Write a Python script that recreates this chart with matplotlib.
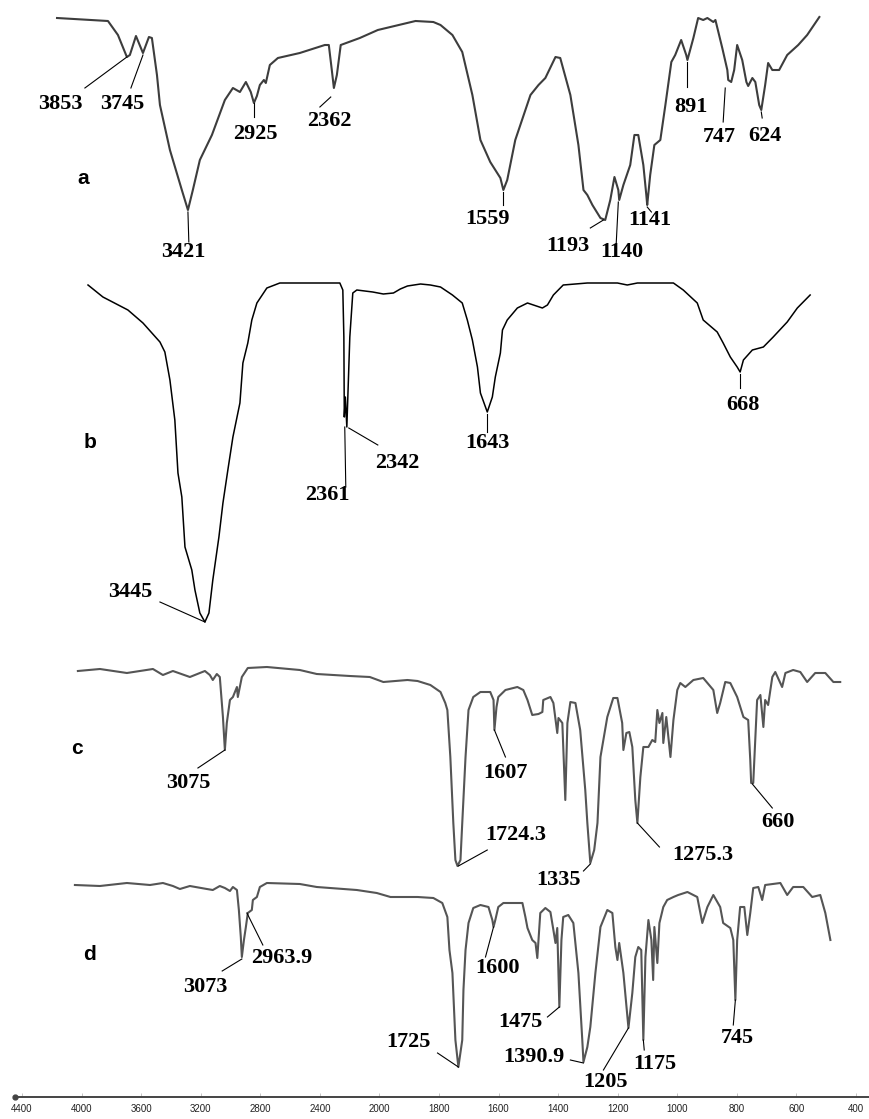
#!/usr/bin/env python3
"""Stacked FTIR spectra (a-d) with annotated band positions."""

import matplotlib
matplotlib.use("Agg")
import matplotlib.pyplot as plt
import numpy as np


# wavenumber (cm-1, as read on the shared bottom axis) and trace height (image rows, downwards)
A_WN = [4165, 3823, 3756, 3696, 3676, 3635, 3588, 3548, 3528, 3494, 3474, 3407, 3327, 3286,
        3253, 3206, 3125, 3038, 2984, 2937, 2897, 2864, 2843, 2823, 2803, 2776, 2763, 2736,
        2682, 2535, 2367, 2340, 2320, 2306, 2286, 2260, 2132, 2011, 1879, 1819, 1795, 1755,
        1722, 1688, 1661, 1628, 1594, 1584, 1571, 1544, 1493, 1466, 1443, 1409, 1393, 1359,
        1332, 1315, 1302, 1285, 1258, 1242, 1225, 1211, 1198, 1195, 1181, 1158, 1144, 1131,
        1114, 1104, 1101, 1091, 1077, 1057, 1040, 1020, 1007, 987, 970, 966, 946, 930, 913,
        899, 879, 872, 849, 832, 829, 819, 809, 799, 782, 768, 762, 748, 738, 725, 718, 705,
        695, 681, 658, 631, 594, 564, 523]
A_Y = [18, 21, 35, 57, 55, 36, 53, 37, 38, 75, 105, 150, 190, 210,
       190, 160, 135, 100, 88, 92, 82, 92, 103, 96, 85, 80, 83, 65,
       58, 53, 45, 45, 70, 88, 75, 45, 38, 30, 21, 22, 25, 35,
       52, 95, 140, 162, 178, 190, 180, 140, 95, 85, 78, 57, 58, 95,
       145, 190, 195, 205, 218, 220, 200, 177, 190, 200, 185, 165, 135, 135,
       165, 195, 205, 175, 145, 140, 105, 62, 55, 40, 55, 60, 38, 18, 20,
       18, 22, 20, 48, 70, 80, 82, 70, 45, 60, 82, 86, 78, 82, 105, 110, 85,
       63, 70, 70, 55, 45, 35, 17]

B_WN = [3957, 3857, 3689, 3588, 3474, 3441, 3407, 3374, 3353, 3327, 3306, 3260, 3239, 3206,
        3172, 3145, 3119, 3078, 3051, 3018, 2984, 2937, 2917, 2884, 2857, 2823, 2756, 2669,
        2266, 2246, 2239, 2236, 2229, 2219, 2199, 2179, 2152, 2045, 1987, 1953, 1930, 1906,
        1862, 1829, 1795, 1755, 1722, 1705, 1688, 1671, 1661, 1638, 1621, 1611, 1594, 1587,
        1571, 1537, 1503, 1483, 1453, 1436, 1416, 1383, 1302, 1201, 1168, 1134, 1013, 980,
        933, 913, 866, 846, 822, 799, 789, 778, 748, 711, 678, 631, 597, 554]
B_Y = [285, 297, 310, 323, 342, 352, 380, 420, 473, 497, 547, 570, 590, 613,
       622, 613, 580, 537, 503, 470, 437, 403, 363, 343, 320, 303, 288, 283,
       283, 290, 337, 417, 397, 427, 337, 293, 290, 292, 294, 293, 289, 286,
       284, 285, 287, 295, 303, 320, 340, 367, 393, 412, 397, 377, 353, 330,
       320, 308, 303, 305, 308, 305, 295, 285, 283, 283, 285, 283, 283, 290,
       303, 320, 332, 343, 357, 367, 372, 360, 350, 347, 337, 322, 308, 295]

C_WN = [4025, 3877, 3696, 3521, 3454, 3387, 3273, 3206, 3172, 3139, 3119, 3092, 3072, 3051,
        3038, 3025, 3004, 2984, 2957, 2951, 2924, 2884, 2756, 2535, 2421, 2199, 2065, 1987,
        1906, 1872, 1829, 1795, 1779, 1772, 1762, 1752, 1745, 1738, 1728, 1722, 1711, 1701,
        1685, 1661, 1628, 1617, 1614, 1607, 1601, 1577, 1537, 1517, 1503, 1487, 1466, 1453,
        1450, 1426, 1416, 1403, 1399, 1386, 1376, 1369, 1359, 1342, 1326, 1309, 1302, 1292,
        1279, 1268, 1258, 1235, 1215, 1201, 1185, 1181, 1171, 1161, 1151, 1141, 1134, 1124,
        1114, 1097, 1084, 1074, 1067, 1060, 1050, 1047, 1037, 1023, 1013, 1000, 990, 973,
        946, 913, 879, 866, 856, 839, 822, 799, 778, 762, 755, 752, 745, 732, 721, 711, 705,
        695, 681, 671, 648, 637, 611, 587, 564, 537, 503, 476, 453]
C_Y = [671, 669, 673, 669, 675, 671, 677, 673, 671, 675, 680, 674, 677, 717,
       750, 723, 700, 697, 687, 697, 677, 668, 667, 670, 674, 676, 677, 682,
       680, 681, 685, 692, 703, 710, 757, 823, 860, 866, 860, 823, 757, 710,
       697, 692, 692, 700, 730, 707, 697, 690, 687, 690, 700, 715, 714, 712,
       700, 697, 703, 733, 718, 723, 800, 723, 702, 703, 730, 790, 823, 863,
       850, 823, 757, 717, 698, 698, 723, 750, 733, 732, 747, 800, 823, 777,
       747, 747, 740, 742, 710, 723, 713, 743, 717, 757, 720, 690, 683, 687,
       680, 678, 690, 713, 703, 682, 683, 697, 717, 720, 760, 783, 783, 700, 695, 727, 700,
       705, 677, 672, 687, 673, 670, 672, 682, 673, 673, 682, 682]

D_WN = [4045, 3877, 3696, 3541, 3454, 3387, 3340, 3273, 3159, 3119, 3072, 3038, 3004, 2984,
        2957, 2944, 2931, 2924, 2910, 2897, 2884, 2857, 2850, 2823, 2803, 2756, 2535, 2421,
        2152, 2018, 1963, 1872, 1819, 1789, 1772, 1765, 1755, 1745, 1735, 1722, 1718, 1711,
        1701, 1685, 1661, 1634, 1621, 1617, 1611, 1601, 1584, 1520, 1510, 1503, 1487, 1476,
        1470, 1466, 1460, 1443, 1426, 1416, 1409, 1403, 1396, 1389, 1383, 1366, 1349, 1332,
        1319, 1315, 1302, 1292, 1275, 1258, 1235, 1218, 1208, 1201, 1195, 1181, 1164, 1151,
        1141, 1131, 1121, 1114, 1107, 1097, 1087, 1081, 1077, 1067, 1060, 1047, 1034, 1013,
        997, 966, 933, 916, 899, 879, 856, 846, 822, 812, 805, 799, 789, 775, 765, 755, 745,
        728, 715, 705, 654, 631, 611, 577, 547, 520, 503, 486]
D_Y = [885, 886, 883, 885, 883, 886, 889, 886, 889, 890, 886, 888, 891, 887,
       890, 910, 937, 957, 940, 927, 913, 910, 900, 897, 887, 883, 884, 887,
       890, 893, 897, 897, 898, 903, 917, 950, 973, 1040, 1067, 1040, 990, 950,
       923, 908, 905, 907, 920, 927, 920, 907, 903, 903, 917, 928, 940, 943,
       958, 940, 913, 908, 912, 930, 943, 928, 1007, 940, 917, 915, 923, 973,
       1040, 1062, 1047, 1027, 973, 927, 910, 913, 947, 960, 943, 973, 1028, 993,
       957, 947, 950, 1040, 957, 920, 940, 980, 927, 963, 923, 907, 900, 897,
       895, 892, 897, 923, 907, 895, 907, 923, 928, 940, 1000, 940, 907, 907, 935, 913, 888,
       887, 900, 885, 883, 895, 887, 887, 897, 895, 913, 940]

# band labels: text, label centre, leader line (two points)
A_BANDS = ["3853", "3745", "3421", "2925", "2362", "1559", "1193", "1140", "1141", "891", "747", "624"]
A_BAND_POS = [(4145, 104), (3729, 104), (3320, 252), (2830, 134), (2333, 121), (1638, 219),
              (1369, 246), (1185, 252), (1091, 220), (953, 107), (859, 137), (705, 136)]
A_LEADERS = [((3978, 88), (3696, 57)), ((3669, 88), (3588, 55)), ((3286, 212), (3280, 242)),
             ((2843, 117), (2843, 103)), ((2400, 107), (2327, 97)), ((1584, 192), (1584, 205)),
             ((1292, 228), (1248, 220)), ((1198, 202), (1205, 243)), ((1101, 207), (1087, 212)),
             ((966, 62), (966, 87)), ((839, 88), (846, 122)), ((718, 112), (715, 118))]

B_BANDS = ["3445", "2361", "2342", "1643", "668"]
B_BAND_POS = [(3676, 592), (2347, 495), (1940, 463), (1638, 443), (778, 405)]
B_LEADERS = [((3474, 602), (3172, 622)), ((2233, 427), (2226, 487)), ((2206, 428), (2011, 445)),
             ((1638, 414), (1638, 432)), ((789, 374), (789, 388))]

C_BANDS = ["3075", "1607", "1724.3", "1335", "1275.3", "660"]
C_BAND_POS = [(3286, 783), (1577, 773), (1544, 835), (1399, 880), (916, 855), (661, 822)]
C_LEADERS = [((3219, 768), (3038, 750)), ((1614, 730), (1577, 757)), ((1735, 866), (1638, 850)),
             ((1292, 864), (1315, 871)), ((1134, 823), (1060, 847)), ((748, 784), (681, 808))]

D_BANDS = ["3073", "2963.9", "1600", "1475", "1390.9", "1725", "1205", "1175", "745"]
D_BAND_POS = [(3172, 987), (2655, 958), (1604, 968), (1527, 1022), (1483, 1057), (1903, 1042),
              (1242, 1082), (1074, 1064), (799, 1038)]
D_LEADERS = [((3056, 971), (2924, 959)), ((2783, 945), (2890, 913)), ((1644, 957), (1617, 927)),
             ((1436, 1017), (1396, 1007)), ((1359, 1060), (1315, 1063)), ((1805, 1053), (1735, 1067)),
             ((1248, 1070), (1164, 1028)), ((1114, 1040), (1111, 1050)), ((805, 1000), (812, 1025))]

PANEL_NAMES = ["a", "b", "c", "d"]
PANEL_POS = [(3991, 178), (3944, 442), (4031, 748), (3944, 955)]

X_TICKS = [4400, 4000, 3600, 3200, 2800, 2400, 2000, 1800, 1600, 1400, 1200, 1000, 800, 600, 400]


def forward(w):
    w = np.asarray(w, dtype=float)
    return np.where(w >= 2000, (w - 2000) / 400.0, (w - 2000) / 200.0)


def inverse(v):
    v = np.asarray(v, dtype=float)
    return np.where(v >= 0, 2000 + 400.0 * v, 2000 + 200.0 * v)


def draw_bands(ax, names, positions, leaders):
    for name, (x, y), ((x0, y0), (x1, y1)) in zip(names, positions, leaders):
        ax.plot([x0, x1], [y0, y1], color="black", linewidth=0.8)
        ax.text(x, y, name, ha="center", va="center", fontsize=16, fontweight="bold",
                family="Liberation Serif", color="black")


def main() -> None:
    fig = plt.figure(figsize=(8.7, 11.19), dpi=100)
    ax = fig.add_axes([0, 0, 1, 1])
    ax.set_xscale("function", functions=(forward, inverse))
    ax.set_xlim(4548, 353)
    ax.set_ylim(1119, 0)

    ax.plot(A_WN, A_Y, color="#3d3d3d", linewidth=1.5)
    ax.plot(B_WN, B_Y, color="black", linewidth=1.1)
    ax.plot(C_WN, C_Y, color="#555555", linewidth=1.5)
    ax.plot(D_WN, D_Y, color="#555555", linewidth=1.5)

    draw_bands(ax, A_BANDS, A_BAND_POS, A_LEADERS)
    draw_bands(ax, B_BANDS, B_BAND_POS, B_LEADERS)
    draw_bands(ax, C_BANDS, C_BAND_POS, C_LEADERS)
    draw_bands(ax, D_BANDS, D_BAND_POS, D_LEADERS)

    for name, (x, y) in zip(PANEL_NAMES, PANEL_POS):
        ax.text(x, y, name, ha="center", va="center", fontsize=15, fontweight="bold",
                family="Liberation Sans")

    for side in ["left", "right", "top"]:
        ax.spines[side].set_visible(False)
    ax.spines["bottom"].set_position(("data", 1097))
    ax.spines["bottom"].set_bounds(4447, 353)
    ax.spines["bottom"].set_color("#444444")
    ax.spines["bottom"].set_linewidth(1.4)
    ax.plot([4447], [1097], marker="o", markersize=3.5, color="#444444", clip_on=False)
    ax.set_yticks([])
    ax.set_xticks(X_TICKS)
    ax.set_xticklabels([str(t) for t in X_TICKS])
    ax.tick_params(axis="x", direction="in", length=3, width=0.6, color="#bbbbbb",
                   pad=5, labelsize=7, labelcolor="#222222")
    for label in ax.get_xticklabels():
        label.set_family("Liberation Sans")

    fig.savefig("out.png", dpi=100)
    plt.close(fig)


if __name__ == "__main__":
    main()
